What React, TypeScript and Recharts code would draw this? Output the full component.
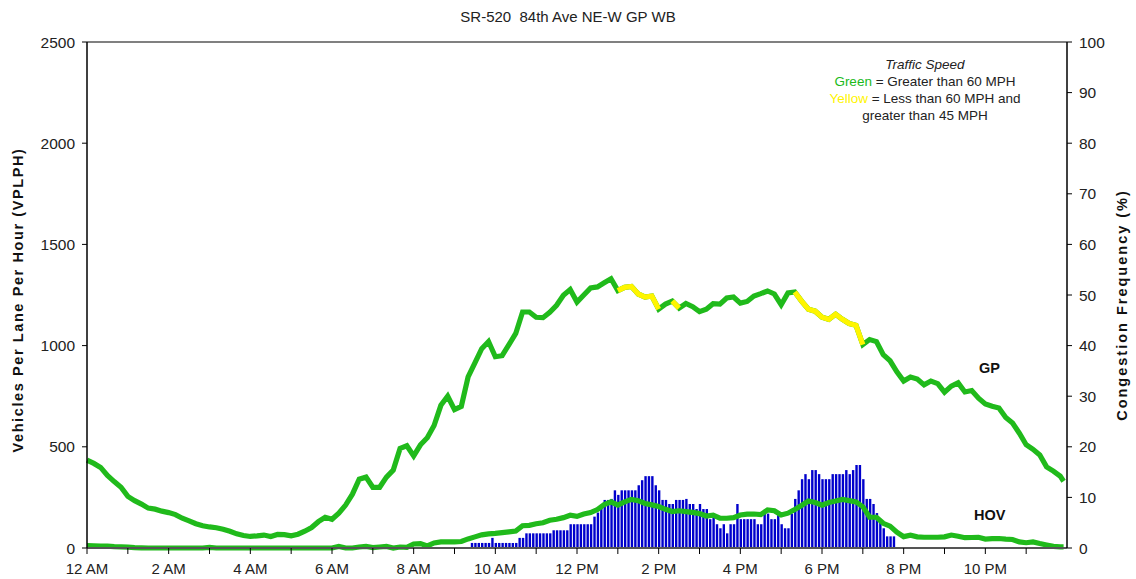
import React from 'react';
import { ComposedChart, Bar, Line, XAxis, YAxis, ReferenceLine } from 'recharts';

const title = 'SR-520  84th Ave NE-W GP WB';

// GP volume (VPLPH), every 10 minutes from 12 AM; last point is 11:55 PM
const gpVolume = [
  434, 418, 398, 358, 328, 300, 255, 234, 217, 197, 192, 182,
  175, 165, 147, 134, 120, 110, 104, 100, 93, 83, 70, 62,
  57, 60, 64, 57, 67, 66, 60, 68, 83, 101, 130, 152,
  142, 172, 212, 266, 340, 350, 300, 300, 350, 385, 492, 505,
  455, 510, 545, 605, 705, 750, 684, 700, 845, 915, 985, 1020,
  945, 950, 1005, 1060, 1166, 1166, 1140, 1138, 1165, 1199, 1249, 1277,
  1215, 1250, 1285, 1290, 1310, 1330, 1272, 1288, 1292, 1255, 1240, 1245,
  1180, 1205, 1220, 1185, 1208, 1192, 1168, 1180, 1207, 1205, 1235, 1240,
  1210, 1218, 1245, 1257, 1270, 1255, 1202, 1260, 1265, 1220, 1180, 1170,
  1140, 1130, 1155, 1130, 1109, 1100, 1005, 1030, 1020, 955, 925, 870,
  825, 845, 835, 806, 825, 812, 770, 800, 816, 771, 778, 740,
  712, 700, 692, 645, 617, 567, 510, 488, 460, 401, 380, 355,
  330,
];

// HOV volume (VPLPH), same times as gpVolume
const hovVolume = [
  12, 11, 10, 9, 7, 6, 4, 2, 1, 0, 0, 0,
  0, 0, 0, 0, 0, 0, 3, 0, 0, 0, 0, 0,
  0, 0, 0, 0, 0, 0, 0, 0, 0, 0, 0, 0,
  0, 8, 0, 0, 5, 8, 2, 5, 8, 0, 5, 3,
  20, 22, 10, 25, 30, 30, 30, 32, 45, 55, 65, 70,
  72, 76, 80, 84, 110, 112, 120, 125, 137, 142, 150, 162,
  156, 168, 175, 190, 215, 228, 212, 228, 240, 234, 220, 213,
  205, 191, 180, 184, 180, 176, 170, 158, 162, 147, 147, 150,
  163, 167, 168, 165, 188, 184, 163, 172, 190, 210, 232, 225,
  212, 225, 232, 240, 234, 228, 204, 152, 152, 122, 108, 78,
  56, 63, 55, 53, 53, 53, 55, 64, 58, 51, 52, 53,
  44, 46, 47, 44, 42, 30, 26, 30, 22, 15, 8, 6,
  6,
];

// stretches of gpVolume (first, last index) where speed was 45-60 MPH
const yellowRanges = [[78, 84], [86, 87], [104, 114]];

// congestion frequency (%), every 5 minutes from 9:25 AM to 7:45 PM
const congStart = 9 * 60 + 25;
const congestion = [
  1, 1, 1, 1, 1, 1, 2,
  1, 1, 1, 1, 1, 1, 1, 2, 2, 2.9, 2.9, 2.9,
  2.9, 2.9, 2.9, 2.9, 2.9, 3.5, 3.5, 3.5, 3.5, 3.5, 4.7, 4.7,
  4.7, 4.7, 4.7, 4.7, 4.7, 6.2, 7, 8, 9.5, 9.5, 9.7, 11.4,
  10.5, 11.4, 11.4, 11.4, 11.4, 11.4, 12.4, 13.4, 14.2, 14.2, 14.2, 12.4,
  11.4, 9.5, 9.5, 8.7, 8.7, 9.5, 9.5, 9.5, 9.7, 8.7, 8.7, 7.7,
  8.7, 7.7, 7.7, 5.7, 6.8, 4.7, 3.9, 4.7, 2.9, 4.7, 4.7, 8.7,
  5.7, 5.7, 5.7, 5.7, 5.7, 4.7, 4.7, 6.8, 6.8, 5.7, 5.7, 6.5,
  4.7, 3.9, 3.9, 6.8, 9.7, 11.4, 13.6, 14.6, 13.6, 15.4, 15.4, 14.6,
  13.6, 13.6, 13.6, 14.6, 14.6, 14.6, 14.6, 15.4, 14.6, 15.4, 16.4, 16.4,
  13.6, 9.7, 9.7, 8.7, 6.9, 5.6, 3.9, 2.3, 2.3, 2.3,
];

const hourTicks = Array.from({ length: 24 }, (_, i) => i);
const hourLabels: Record<number, string> = {
  0: '12 AM', 2: '2 AM', 4: '4 AM', 6: '6 AM', 8: '8 AM', 10: '10 AM',
  12: '12 PM', 14: '2 PM', 16: '4 PM', 18: '6 PM', 20: '8 PM', 22: '10 PM',
};
const volumeTicks = [0, 500, 1000, 1500, 2000, 2500];
const percentTicks = [0, 10, 20, 30, 40, 50, 60, 70, 80, 90, 100];

const GREEN = '#20BA1B';
const YELLOW = '#FFF500';
const BLUE = '#0000CC';
const FONT = '"Liberation Sans", Arial, sans-serif';

// 5 minute rows; line values sit on their own 10 minute rows
const rows: any[] = [];
for (let i = 0; i < 288; i++) {
  const m = i * 5;
  const row: any = { h: m / 60 };
  const j = m % 10 === 0 ? m / 10 : m === 1435 ? 144 : -1;
  if (j >= 0) {
    row.gp = gpVolume[j];
    row.hov = hovVolume[j];
    yellowRanges.forEach(([a, b], r) => {
      if (j >= a && j <= b) row['y' + r] = gpVolume[j];
    });
  }
  const k = (m - congStart) / 5;
  if (k >= 0 && k < congestion.length) row.cong = congestion[k];
  rows.push(row);
}

const xTickStyle = { fill: '#222', fontSize: 15, fontFamily: FONT };
const yTickStyle = { fill: '#222', fontSize: 15.5, fontFamily: FONT };

export default function App() {
  return (
    <div style={{ position: 'absolute', left: 0, top: 0, width: 1136, height: 579, background: '#fff', fontFamily: FONT }}>
      <ComposedChart width={1136} height={579} data={rows} margin={{ top: 42, right: 0, bottom: 0, left: 0 }}>
        <XAxis
          dataKey="h"
          type="number"
          domain={[0, 24]}
          ticks={hourTicks}
          interval={0}
          tickFormatter={(v: number) => hourLabels[v] || ''}
          tick={xTickStyle}
          tickSize={6}
          tickMargin={9}
          stroke="#000"
          axisLine={{ stroke: '#555', strokeWidth: 2 }}
          height={31}
        />
        <YAxis
          yAxisId="left"
          domain={[0, 2500]}
          ticks={volumeTicks}
          interval={0}
          tick={yTickStyle}
          tickSize={5}
          tickMargin={7}
          stroke="#000"
          axisLine={{ stroke: '#000', strokeWidth: 1.5 }}
          width={87}
        />
        <YAxis
          yAxisId="right"
          orientation="right"
          domain={[0, 100]}
          ticks={percentTicks}
          interval={0}
          tick={yTickStyle}
          tickSize={5}
          tickMargin={7}
          stroke="#000"
          axisLine={{ stroke: '#000', strokeWidth: 1.5 }}
          width={69}
        />
        <ReferenceLine yAxisId="left" y={2500} stroke="#808080" strokeWidth={2} />
        <Bar yAxisId="right" dataKey="cong" fill={BLUE} barSize={2.4} isAnimationActive={false} />
        <Line yAxisId="left" dataKey="hov" stroke={GREEN} strokeWidth={5.2} dot={false} connectNulls isAnimationActive={false} />
        <Line yAxisId="left" dataKey="gp" stroke={GREEN} strokeWidth={5.2} dot={false} connectNulls isAnimationActive={false} />
        {yellowRanges.map((_, r) => (
          <Line key={r} yAxisId="left" dataKey={'y' + r} stroke={YELLOW} strokeWidth={5.2} dot={false} connectNulls isAnimationActive={false} />
        ))}
      </ComposedChart>

      <div style={{ position: 'absolute', left: 368, top: 8, width: 400, textAlign: 'center', fontSize: 15, color: '#222', whiteSpace: 'pre' }}>
        {title}
      </div>
      <div style={{ position: 'absolute', left: 18, top: 300, transform: 'translate(-50%, -50%) rotate(-90deg)', whiteSpace: 'nowrap', fontSize: 14.5, fontWeight: 'bold', letterSpacing: 1.6, color: '#111' }}>
        Vehicles Per Lane Per Hour (VPLPH)
      </div>
      <div style={{ position: 'absolute', left: 1122, top: 305, transform: 'translate(-50%, -50%) rotate(-90deg)', whiteSpace: 'nowrap', fontSize: 14.5, fontWeight: 'bold', letterSpacing: 2, color: '#111' }}>
        Congestion Frequency (%)
      </div>
      <div style={{ position: 'absolute', left: 795, top: 56, width: 260, textAlign: 'center', fontSize: 13.5, lineHeight: '17px', color: '#222' }}>
        <div style={{ fontStyle: 'italic' }}>Traffic Speed</div>
        <div><span style={{ color: GREEN }}>Green</span> = Greater than 60 MPH</div>
        <div><span style={{ color: YELLOW }}>Yellow</span> = Less than 60 MPH and</div>
        <div>greater than 45 MPH</div>
      </div>
      <div style={{ position: 'absolute', left: 979, top: 360, fontSize: 14.5, fontWeight: 'bold', color: '#111' }}>GP</div>
      <div style={{ position: 'absolute', left: 974, top: 507, fontSize: 14.5, fontWeight: 'bold', color: '#111' }}>HOV</div>
    </div>
  );
}
